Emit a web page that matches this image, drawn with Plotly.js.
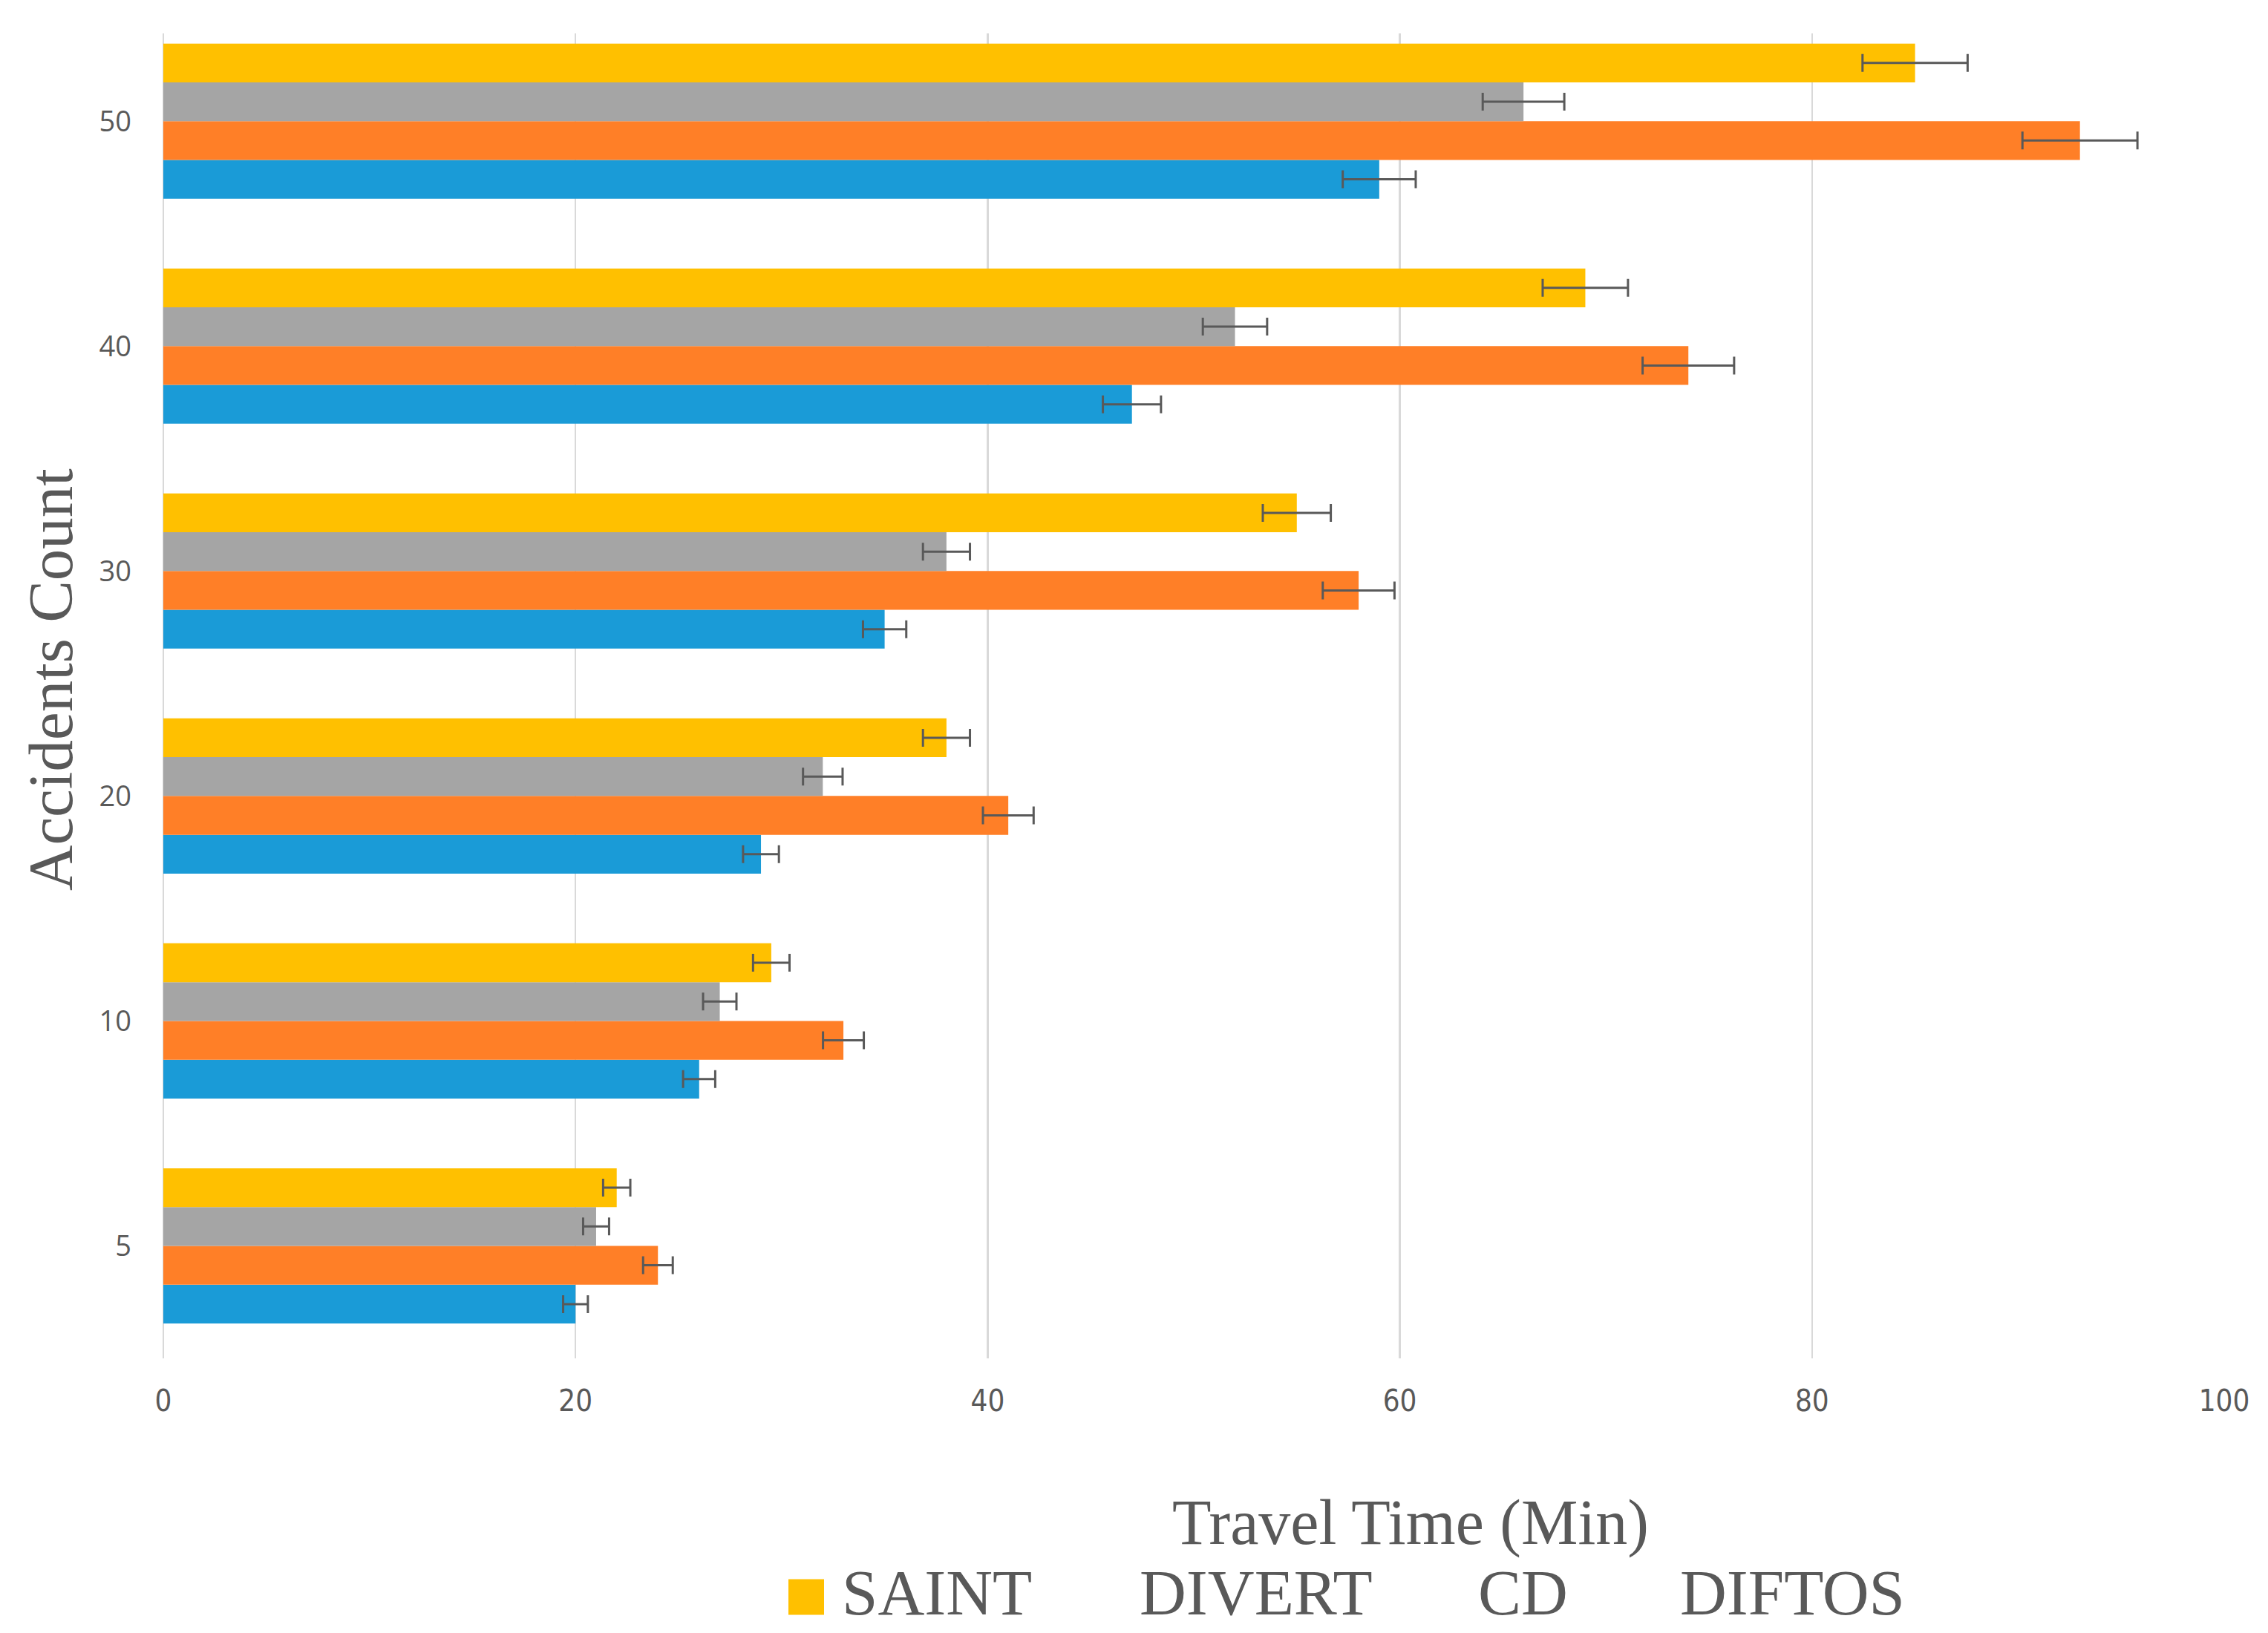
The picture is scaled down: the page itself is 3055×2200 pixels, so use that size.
<!DOCTYPE html>
<html>
<head>
<meta charset="utf-8">
<script src="https://cdn.plot.ly/plotly-3.0.1.min.js"></script>
<style>
html,body{margin:0;padding:0;background:#fff;overflow:hidden;}
#chart{width:3055px;height:2200px;}
</style>
</head>
<body>
<div id="chart"></div>
<script>
// Categories (Accidents Count), bottom to top
const categories = ['5', '10', '20', '30', '40', '50'];
// Travel time (min) per method
const saint  = [22, 29.5, 38, 55, 69, 85];
const divert = [21, 27, 32, 38, 52, 66];
const cd     = [24, 33, 41, 58, 74, 93];
const diftos = [20, 26, 29, 35, 47, 59];
// Error bars: percent of value
const errorPercent = 3;
const xTicks = [0, 20, 40, 60, 80, 100];

// drawn bottom-to-top inside each group
const names = ['DIFTOS', 'CD', 'DIVERT', 'SAINT'];
const series = [diftos, cd, divert, saint];
const colors = ['#1A9BD7', '#FF7F27', '#A5A5A5', '#FFC000'];
const legendIds = ['legend4', 'legend3', 'legend2', 'legend'];

const W = 3055, H = 2200;
const L = 220, R = 59, T = 45, B = 370;
const PW = W - L - R, PH = H - T - B;
const px2x = px => (px - L) / PW;
const py2y = py => 1 - (py - T) / PH;

const traces = series.map((vals, i) => ({
  type: 'bar',
  orientation: 'h',
  name: names[i],
  legend: legendIds[i],
  y: categories,
  x: vals,
  marker: {color: colors[i], line: {width: 0}},
  error_x: {type: 'percent', value: errorPercent, color: '#595959', thickness: 3, width: 12},
  hoverinfo: 'x+name'
}));

const LEGEND_SIZE = 87;
const ITEM_WIDTH = 86;
const legendFont = {family: 'Liberation Serif, Times New Roman, serif', size: LEGEND_SIZE, color: '#595959'};
// left edge of each legend entry (SAINT, DIVERT, CD, DIFTOS)
const legendLeft = [1038, 1439, 1895, 2167];
const legendCenterY = 2142;
function mkLegend(leftPx) {
  return {
    orientation: 'h',
    x: px2x(leftPx), xanchor: 'left',
    y: py2y(legendCenterY), yanchor: 'middle',
    font: legendFont,
    itemwidth: ITEM_WIDTH,
    borderwidth: 0,
    bgcolor: 'rgba(0,0,0,0)'
  };
}

const layout = {
  width: W, height: H,
  margin: {l: L, r: R, t: T, b: B, pad: 0, autoexpand: false},
  paper_bgcolor: '#ffffff',
  plot_bgcolor: '#ffffff',
  barmode: 'group',
  bargap: 0.31,
  bargroupgap: 0,
  showlegend: true,
  legend: mkLegend(legendLeft[0]),
  legend2: mkLegend(legendLeft[1]),
  legend3: mkLegend(legendLeft[2]),
  legend4: mkLegend(legendLeft[3]),
  xaxis: {
    range: [0, 100],
    tickvals: xTicks,
    ticktext: xTicks.map(String),
    showgrid: true,
    gridcolor: '#D9D9D9',
    gridwidth: 2.5,
    zeroline: true,
    zerolinecolor: '#D9D9D9',
    zerolinewidth: 2.5,
    showline: false,
    ticks: '',
    ticklabelstandoff: 30,
    tickfont: {family: 'DejaVu Sans Condensed, Liberation Sans Narrow, sans-serif', size: 40, color: '#595959'},
    fixedrange: true
  },
  yaxis: {
    type: 'category',
    range: [-0.5, 5.39],
    showgrid: false,
    zeroline: false,
    showline: false,
    ticks: '',
    ticklabelstandoff: 42,
    tickfont: {family: 'Open Sans, DejaVu Sans, sans-serif', size: 38, color: '#595959'},
    fixedrange: true
  },
  annotations: [
    {
      text: 'Travel Time (Min)',
      xref: 'paper', yref: 'paper',
      x: px2x(1900),
      y: py2y(2051),
      xanchor: 'center', yanchor: 'middle',
      showarrow: false,
      font: {family: 'Liberation Serif, Times New Roman, serif', size: 86, color: '#595959'}
    },
    {
      text: 'Accidents Count',
      xref: 'paper', yref: 'paper',
      x: px2x(68),
      y: py2y(916),
      xanchor: 'center', yanchor: 'middle',
      textangle: -90,
      showarrow: false,
      font: {family: 'Liberation Serif, Times New Roman, serif', size: 85, color: '#595959'}
    }
  ]
};

// Enlarge the legend colour squares and place each one just left of its
// label, its bottom on the text baseline. Uses local geometry only
// (path bbox, label x/y attributes, relative CTM), so it is idempotent.
const SQUARE = 48, SQUARE_GAP = 24;
function findItem(el) {
  let n = el.parentNode;
  while (n && n.nodeType === 1) {
    if (n.querySelector && n.querySelector('text.legendtext')) return n;
    n = n.parentNode;
  }
  return null;
}
function fixLegendSymbols() {
  document.querySelectorAll('g.legendpoints path').forEach(path => {
    try {
      const item = findItem(path);
      if (!item) return;
      const text = item.querySelector('text.legendtext');
      const lb = path.getBBox();
      if (!lb || !lb.width || !lb.height) return;
      let tx = parseFloat(text.getAttribute('x'));
      let ty = parseFloat(text.getAttribute('y'));
      if (!isFinite(tx)) tx = ITEM_WIDTH + 10;
      if (!isFinite(ty)) ty = 0.3 * 1.3 * LEGEND_SIZE;
      // target centre in the item's coordinates
      let cx = tx - SQUARE_GAP - SQUARE / 2;
      let cy = ty - SQUARE / 2;
      // convert to the path parent's coordinates
      const itemM = item.getCTM(), parM = path.parentNode.getCTM();
      if (itemM && parM) {
        const rel = itemM.inverse().multiply(parM);
        const inv = rel.inverse();
        const nx = inv.a * cx + inv.c * cy + inv.e;
        const ny = inv.b * cx + inv.d * cy + inv.f;
        cx = nx; cy = ny;
      }
      const s = SQUARE / lb.width;
      const lcx = lb.x + lb.width / 2, lcy = lb.y + lb.height / 2;
      path.setAttribute('transform',
        `translate(${cx},${cy}) scale(${s}) translate(${-lcx},${-lcy})`);
    } catch (e) { /* keep Plotly's default symbol */ }
  });
}

Plotly.newPlot('chart', traces, layout, {displayModeBar: false, staticPlot: true}).then(gd => {
  fixLegendSymbols();
  gd.on && gd.on('plotly_afterplot', fixLegendSymbols);
  [0, 50, 150, 400, 1000, 2000].forEach(t => setTimeout(fixLegendSymbols, t));
  requestAnimationFrame(fixLegendSymbols);
});
</script>
</body>
</html>
